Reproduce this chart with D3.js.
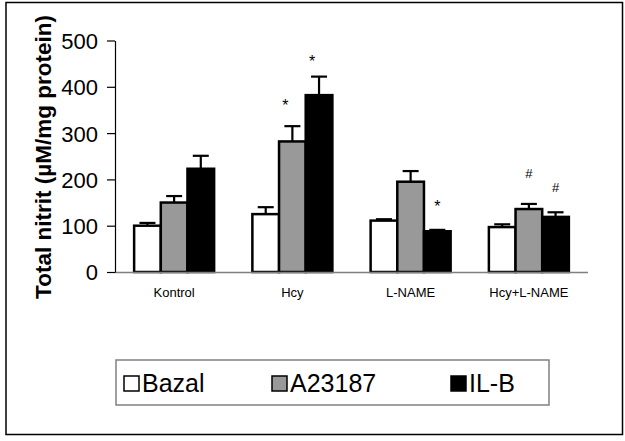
<!DOCTYPE html>
<html><head><meta charset="utf-8">
<script src="https://cdn.jsdelivr.net/npm/d3@7"></script>
<style>body{margin:0;background:#fff}svg{display:block}text{font-family:Arial,"Liberation Sans",sans-serif}</style>
</head><body>
<svg id="c" width="625" height="441"></svg>
<script>
const categories = ["Kontrol","Hcy","L-NAME","Hcy+L-NAME"];
const seriesNames = ["Bazal","A23187","IL-B"];
const seriesColors = ["#ffffff","#999999","#000000"];
const bazal  = [100,125,111,97];
const a23187 = [150,282,195,136];
const ilb    = [223,382,88,119];
const bazalErr  = [6,15,3,6];
const a23187Err = [14,33,23,11];
const ilbErr    = [28,40,3,10];
const yTicks = [0,100,200,300,400,500];
// annotations: [category index, series index, symbol, level]
const marks = [[1,1,"*",364],[1,2,"*",461],[2,2,"*",146],[3,1,"#",213],[3,2,"#",183]];

const values=[bazal,a23187,ilb], errs=[bazalErr,a23187Err,ilbErr];
const svg=d3.select("#c");
svg.append("rect").attr("x",6).attr("y",2.5).attr("width",616.5).attr("height",432)
  .attr("fill","none").attr("stroke","#000").attr("stroke-width",1.5);

const x0=d3.scaleBand().domain(categories).range([115,588]);
const inner=80;
const x1=d3.scaleBand().domain(seriesNames).range([0,inner]);
const y=d3.scaleLinear().domain([0,500]).range([272,40.5]);

const g=svg.append("g");
categories.forEach((c,i)=>{
  seriesNames.forEach((s,j)=>{
    const bx=x0(c)+(x0.bandwidth()-inner)/2+x1(s);
    const v=values[j][i], e=errs[j][i];
    const cx=bx+x1.bandwidth()/2;
    g.append("line").attr("x1",cx).attr("x2",cx).attr("y1",y(v)).attr("y2",y(v+e)).attr("stroke","#000").attr("stroke-width",2.2);
    g.append("line").attr("x1",cx-8).attr("x2",cx+8).attr("y1",y(v+e)).attr("y2",y(v+e)).attr("stroke","#000").attr("stroke-width",2.2);
    g.append("rect").attr("x",bx).attr("y",y(v)).attr("width",x1.bandwidth()).attr("height",y(0)-y(v))
      .attr("fill",seriesColors[j]).attr("stroke","#000").attr("stroke-width",2.5);
  });
});
marks.forEach(([ci,si,sym,lvl])=>{
  const cx=x0(categories[ci])+(x0.bandwidth()-inner)/2+x1(seriesNames[si])+x1.bandwidth()/2;
  svg.append("text").attr("x",cx-(ci===1?7:0)).attr("y",y(lvl)+(sym==="*"?8:5)).attr("text-anchor","middle")
    .attr("font-size",sym==="*"?16:13).text(sym);
});

// x axis line
svg.append("line").attr("x1",115).attr("x2",588).attr("y1",272.5).attr("y2",272.5).attr("stroke","#808080").attr("stroke-width",1.5);
// y axis
const ya=svg.append("g").attr("transform","translate(115,0)").call(d3.axisLeft(y).tickValues(yTicks).tickSize(8).tickSizeOuter(0).tickPadding(9));
ya.select(".domain").attr("stroke","#000").attr("stroke-width",1.2);
ya.selectAll(".tick line").attr("stroke","#000").attr("stroke-width",1.2);
ya.selectAll(".tick text").attr("font-size",22).attr("font-family","Arial,'Liberation Sans',sans-serif").attr("fill","#000").attr("dy","0.36em");

// category labels
categories.forEach(c=>{
  svg.append("text").attr("x",x0(c)+x0.bandwidth()/2).attr("y",297).attr("text-anchor","middle").attr("font-size",13).text(c);
});

// y title
svg.append("text").attr("transform","translate(51,157) rotate(-90)").attr("text-anchor","middle")
  .attr("font-size",22.5).attr("font-weight","bold").text("Total nitrit (µM/mg protein)");

// legend
svg.append("rect").attr("x",116).attr("y",360).attr("width",433).attr("height",45).attr("fill","none").attr("stroke","#808080").attr("stroke-width",1.5);
const legX=[124,272,451];
seriesNames.forEach((s,j)=>{
  svg.append("rect").attr("x",legX[j]).attr("y",376).attr("width",15).attr("height",15).attr("fill",seriesColors[j]).attr("stroke","#000").attr("stroke-width",1.5);
  svg.append("text").attr("x",legX[j]+18).attr("y",392).attr("font-size",25).text(s);
});
</script>
</body></html>
